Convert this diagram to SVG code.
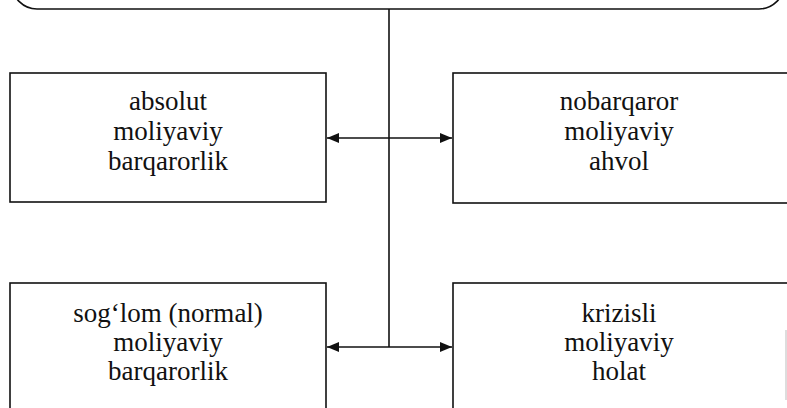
<svg xmlns="http://www.w3.org/2000/svg" width="787" height="408" viewBox="0 0 787 408">
  <style>
    .box { fill: #fff; stroke: #111; stroke-width: 1.6; }
    .lbl { font-family: "Liberation Serif", "Times New Roman", serif; font-size: 27px; fill: #111; text-anchor: middle; }
    .conn { stroke: #111; stroke-width: 1.6; fill: none; }
  </style>
  <defs>
    <marker id="ah" viewBox="0 0 12 10" refX="12" refY="5" markerWidth="12" markerHeight="10" markerUnits="userSpaceOnUse" orient="auto-start-reverse">
      <path d="M0,0 L12,5 L0,10 Z" fill="#111"/>
    </marker>
  </defs>
  <rect width="787" height="408" fill="#fff"/>

  <g id="top">
    <rect class="box" x="12" y="-60" width="772" height="69" rx="25" ry="25"/>
  </g>

  <g id="absolut">
    <rect class="box" x="10" y="73" width="316" height="129"/>
    <text class="lbl" x="168" y="110">absolut</text>
    <text class="lbl" x="168" y="140">moliyaviy</text>
    <text class="lbl" x="168" y="170">barqarorlik</text>
  </g>

  <g id="nobarqaror">
    <rect class="box" x="453" y="73" width="360" height="130"/>
    <text class="lbl" x="619" y="110">nobarqaror</text>
    <text class="lbl" x="619" y="140">moliyaviy</text>
    <text class="lbl" x="619" y="170">ahvol</text>
  </g>

  <g id="soglom">
    <rect class="box" x="10" y="283" width="316" height="140"/>
    <text class="lbl" x="168" y="322">sog‘lom (normal)</text>
    <text class="lbl" x="168" y="351">moliyaviy</text>
    <text class="lbl" x="168" y="380">barqarorlik</text>
  </g>

  <g id="krizisli">
    <rect class="box" x="453" y="283" width="360" height="140"/>
    <line x1="786" y1="330" x2="786" y2="400" stroke="#bbb" stroke-width="1"/>
    <text class="lbl" x="619" y="322">krizisli</text>
    <text class="lbl" x="619" y="351">moliyaviy</text>
    <text class="lbl" x="619" y="380">holat</text>
  </g>

  <g id="connectors">
    <line class="conn" x1="389" y1="9" x2="389" y2="347"/>
    <line class="conn" x1="327" y1="138" x2="452" y2="138" marker-start="url(#ah)" marker-end="url(#ah)"/>
    <line class="conn" x1="327" y1="347" x2="452" y2="347" marker-start="url(#ah)" marker-end="url(#ah)"/>
  </g>
</svg>
